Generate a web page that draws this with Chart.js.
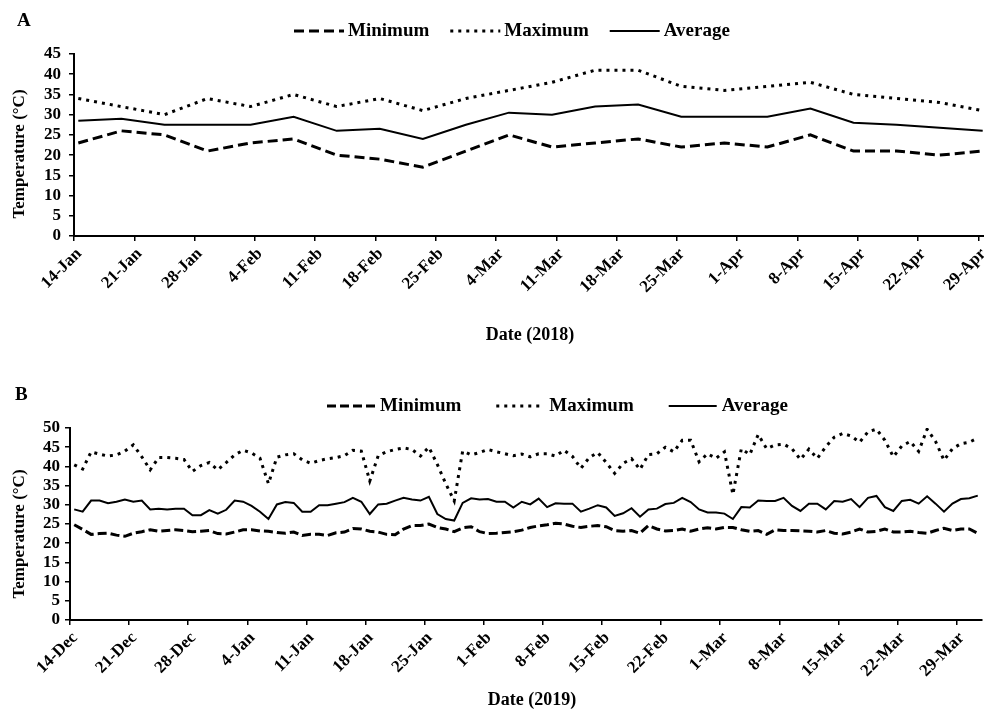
<!DOCTYPE html>
<html>
<head>
<meta charset="utf-8">
<title>Air temperature 2018 and 2019</title>
<script src="https://cdn.jsdelivr.net/npm/chart.js@4.4.1/dist/chart.umd.min.js"></script>
<style>
  html, body { margin: 0; padding: 0; background: #fff; overflow: hidden; width: 984px; height: 710px; }
  .panel { position: absolute; left: 0; }
  #panelA { top: 0; }
  #panelB { top: 355px; }
</style>
</head>
<body>
<div class="panel" id="panelA"><canvas id="chartA" width="990" height="355"></canvas></div>
<div class="panel" id="panelB"><canvas id="chartB" width="990" height="355"></canvas></div>
<script>
const FONT = '"Liberation Serif", "Times New Roman", serif';
const INK = '#000';

// ---- Panel A: 2018, readings every five days ----
const axisStartA = '2018-01-14';
const readingDatesA = ['2018-01-14', '2018-01-19', '2018-01-24', '2018-01-29', '2018-02-03', '2018-02-08',
  '2018-02-13', '2018-02-18', '2018-02-23', '2018-02-28', '2018-03-05', '2018-03-10', '2018-03-15',
  '2018-03-20', '2018-03-25', '2018-03-30', '2018-04-04', '2018-04-09', '2018-04-14', '2018-04-19',
  '2018-04-24', '2018-04-29'];
const minA = [23, 26, 25, 21, 23, 24, 20, 19, 17, 21, 25, 22, 23, 24, 22, 23, 22, 25, 21, 21, 20, 21];
const maxA = [34, 32, 30, 34, 32, 35, 32, 34, 31, 34, 36, 38, 41, 41, 37, 36, 37, 38, 35, 34, 33, 31];
const avgA = [28.5, 29, 27.5, 27.5, 27.5, 29.5, 26, 26.5, 24, 27.5, 30.5, 30, 32, 32.5, 29.5, 29.5, 29.5,
  31.5, 28, 27.5, 26.75, 26];
const tickLabelsA = ['14-Jan', '21-Jan', '28-Jan', '4-Feb', '11-Feb', '18-Feb', '25-Feb', '4-Mar', '11-Mar',
  '18-Mar', '25-Mar', '1-Apr', '8-Apr', '15-Apr', '22-Apr', '29-Apr'];

// ---- Panel B: 2019, daily readings from 14 Dec ----
const axisStartB = '2018-12-14';
const minB = [24.8, 23.6, 22.3, 22.5, 22.6, 22.1, 21.8, 22.6, 23.0, 23.5,
  23.1, 23.3, 23.5, 23.3, 23.0, 23.1, 23.3, 22.5, 22.4, 22.9,
  23.5, 23.5, 23.2, 23.1, 22.8, 22.6, 22.9, 22.0, 22.3, 22.3,
  22.0, 22.7, 22.9, 23.8, 23.7, 23.1, 22.9, 22.3, 22.2, 23.7,
  24.6, 24.6, 25.0, 24.1, 23.7, 23.0, 24.0, 24.3, 23.0, 22.5,
  22.6, 22.8, 23.0, 23.4, 24.1, 24.5, 24.8, 25.2, 25.0, 24.4,
  24.1, 24.4, 24.6, 24.3, 23.3, 23.1, 23.3, 22.6, 24.6, 23.7,
  23.2, 23.3, 23.7, 23.1, 23.7, 24.0, 23.7, 24.1, 24.1, 23.5,
  23.1, 23.3, 22.3, 23.5, 23.3, 23.3, 23.2, 23.1, 22.9, 23.3,
  22.6, 22.4, 22.9, 23.7, 22.9, 23.1, 23.7, 22.9, 22.9, 23.1,
  22.8, 22.6, 23.3, 23.9, 23.3, 23.7, 23.7, 22.6];
const maxB = [40.4, 39.3, 43.8, 43.2, 42.7, 43.0, 44.0, 45.6, 42.5, 39.1,
  42.3, 42.3, 42.1, 41.8, 38.7, 40.2, 41.0, 39.1, 41.0, 43.0,
  44.2, 43.5, 42.1, 35.5, 42.4, 43.0, 43.3, 41.7, 40.8, 41.5,
  42.0, 42.3, 42.8, 44.2, 44.0, 36.2, 42.8, 43.8, 44.4, 44.8,
  44.4, 42.7, 45.0, 40.5, 35.5, 31.0, 44.0, 43.0, 43.6, 44.4,
  43.8, 43.3, 42.8, 43.2, 42.5, 43.3, 43.3, 42.7, 44.2, 42.6,
  39.5, 42.3, 43.6, 41.0, 38.2, 40.8, 42.0, 39.2, 43.1, 43.3,
  45.0, 43.8, 46.8, 46.8, 41.2, 43.3, 42.1, 43.8, 32.7, 44.6,
  43.1, 48.3, 44.6, 45.6, 45.8, 44.6, 41.8, 44.5, 42.1, 45.1,
  47.6, 48.6, 47.9, 46.3, 49.0, 49.7, 46.8, 42.5, 45.3, 46.5,
  43.9, 49.7, 46.5, 41.6, 44.6, 45.9, 46.3, 47.4];
const avgB = [28.8, 28.2, 31.1, 31.1, 30.4, 30.8, 31.4, 30.8, 31.1, 28.8,
  29.0, 28.8, 29.0, 29.0, 27.3, 27.3, 28.6, 27.7, 28.7, 31.1,
  30.8, 29.7, 28.2, 26.3, 30.1, 30.7, 30.5, 28.2, 28.2, 29.9,
  29.9, 30.3, 30.7, 31.8, 30.8, 27.6, 30.1, 30.3, 31.1, 31.8,
  31.4, 31.1, 32.1, 27.6, 26.3, 25.9, 30.5, 31.7, 31.4, 31.5,
  30.8, 30.8, 29.3, 30.8, 30.1, 31.6, 29.4, 30.4, 30.3, 30.3,
  28.2, 29.0, 29.9, 29.3, 27.1, 27.8, 29.1, 26.9, 28.8, 29.0,
  30.2, 30.5, 31.8, 30.7, 28.8, 28.0, 28.0, 27.7, 26.3, 29.4,
  29.3, 31.1, 31.0, 31.0, 31.8, 29.7, 28.4, 30.3, 30.3, 28.8,
  31.0, 30.8, 31.5, 29.4, 31.8, 32.3, 29.4, 28.4, 31.0, 31.3,
  30.3, 32.2, 30.3, 28.2, 30.3, 31.5, 31.7, 32.4];
const tickLabelsB = ['14-Dec', '21-Dec', '28-Dec', '4-Jan', '11-Jan', '18-Jan', '25-Jan', '1-Feb', '8-Feb',
  '15-Feb', '22-Feb', '1-Mar', '8-Mar', '15-Mar', '22-Mar', '29-Mar'];

const seriesLabels = ['Minimum', 'Maximum', 'Average'];

const DAY_MS = 86400000;
function dayOffset(iso, startIso) {
  return Math.round((Date.parse(iso) - Date.parse(startIso)) / DAY_MS);
}

// Legend row, panel letter and axis titles, drawn on top of the chart
function panelDecor(d) {
  return {
    id: 'panelDecor',
    afterDraw(chart) {
      const ctx = chart.ctx;
      ctx.save();
      ctx.fillStyle = INK;
      ctx.strokeStyle = INK;
      ctx.textBaseline = 'middle';

      ctx.font = 'bold ' + d.letterSize + 'px ' + FONT;
      ctx.textAlign = 'left';
      ctx.fillText(d.letter, d.letterX, d.letterY);

      ctx.font = 'bold ' + d.legendSize + 'px ' + FONT;
      let x = d.legendX;
      chart.data.datasets.forEach(ds => {
        ctx.save();
        ctx.lineWidth = ds.borderWidth;
        ctx.lineCap = 'butt';
        ctx.setLineDash(ds.borderDash || []);
        ctx.beginPath();
        ctx.moveTo(x, d.legendY);
        ctx.lineTo(x + d.sample, d.legendY);
        ctx.stroke();
        ctx.restore();
        x += d.sample + d.textGap;
        ctx.fillText(ds.label, x, d.legendY);
        x += ctx.measureText(ds.label).width + d.itemGap;
      });

      ctx.font = 'bold ' + d.xTitleSize + 'px ' + FONT;
      ctx.textAlign = 'center';
      ctx.fillText(d.xTitle, d.xTitleX, d.xTitleY);

      ctx.font = 'bold ' + d.yTitleSize + 'px ' + FONT;
      ctx.translate(d.yTitleX, d.yTitleY);
      ctx.rotate(-Math.PI / 2);
      ctx.fillText(d.yTitle, 0, 0);
      ctx.restore();
    }
  };
}

function buildChart(canvasId, p) {
  // each reading sits in the middle of its day on the date axis
  const pts = vals => vals.map((v, i) => ({ x: p.days[i] + 0.5, y: v }));
  const common = { borderColor: INK, pointRadius: 0, fill: false, tension: 0, borderCapStyle: 'butt', borderJoinStyle: 'miter' };
  return new Chart(document.getElementById(canvasId), {
    type: 'line',
    data: {
      datasets: [
        Object.assign({ label: seriesLabels[0], data: pts(p.min), borderWidth: 3, borderDash: p.minDash }, common),
        Object.assign({ label: seriesLabels[1], data: pts(p.max), borderWidth: 3, borderDash: p.maxDash }, common),
        Object.assign({ label: seriesLabels[2], data: pts(p.avg), borderWidth: 2, borderDash: [] }, common)
      ]
    },
    options: {
      responsive: false,
      animation: false,
      events: [],
      layout: { padding: { top: p.padTop, right: p.padRight, left: 0, bottom: 0 } },
      plugins: { legend: { display: false }, tooltip: { enabled: false } },
      scales: {
        x: {
          type: 'linear',
          bounds: 'data',
          min: 0,
          max: p.span,
          afterBuildTicks: s => { s.ticks = p.tickLabels.map((_, i) => ({ value: i * 7 })); },
          afterFit: s => { s.height = p.xAxisHeight; s.paddingLeft = 0; s.paddingRight = 0; },
          grid: { drawOnChartArea: false, drawTicks: true, tickLength: 5, color: INK, lineWidth: 1.5 },
          border: { display: true, color: INK, width: 2 },
          ticks: {
            autoSkip: false, minRotation: 45, maxRotation: 45, padding: 3, labelOffset: 5, color: INK,
            font: { family: FONT, size: p.xTickSize, weight: 'bold' },
            callback: (value, index) => p.tickLabels[index]
          }
        },
        y: {
          min: 0,
          max: p.yMax,
          afterFit: s => { s.width = p.yAxisWidth; s.paddingTop = 0; s.paddingBottom = 0; },
          grid: { drawOnChartArea: false, drawTicks: true, tickLength: 5, color: INK, lineWidth: 1.5 },
          border: { display: true, color: INK, width: 2 },
          ticks: {
            stepSize: 5, autoSkip: false, padding: p.yTickPad, color: INK,
            font: { family: FONT, size: p.yTickSize, weight: 'bold' }
          }
        }
      }
    },
    plugins: [panelDecor(p.decor)]
  });
}

const daysA = readingDatesA.map(d => dayOffset(d, axisStartA));
buildChart('chartA', {
  days: daysA, min: minA, max: maxA, avg: avgA, tickLabels: tickLabelsA,
  span: daysA[daysA.length - 1] + 1, yMax: 45,
  minDash: [10, 5], maxDash: [3, 5],
  padTop: 54, padRight: 3, xAxisHeight: 119, yAxisWidth: 74, yTickPad: 8,
  xTickSize: 17, yTickSize: 17,
  decor: {
    letter: 'A', letterX: 17, letterY: 21, letterSize: 19,
    legendX: 294, legendY: 31, legendSize: 19, sample: 50, textGap: 4, itemGap: 21,
    xTitle: 'Date (2018)', xTitleX: 530, xTitleY: 335, xTitleSize: 18,
    yTitle: 'Temperature (°C)', yTitleX: 20, yTitleY: 154, yTitleSize: 17
  }
});

const daysB = minB.map((_, i) => i);
buildChart('chartB', {
  days: daysB, min: minB, max: maxB, avg: avgB, tickLabels: tickLabelsB,
  span: minB.length, yMax: 50,
  minDash: [9, 4], maxDash: [3, 5],
  padTop: 73, padRight: 8, xAxisHeight: 90, yAxisWidth: 70, yTickPad: 5,
  xTickSize: 17, yTickSize: 17,
  decor: {
    letter: 'B', letterX: 15, letterY: 40, letterSize: 19,
    legendX: 327, legendY: 51, legendSize: 19, sample: 48, textGap: 5, itemGap: 35,
    xTitle: 'Date (2019)', xTitleX: 532, xTitleY: 345, xTitleSize: 18,
    yTitle: 'Temperature (°C)', yTitleX: 20, yTitleY: 179, yTitleSize: 17
  }
});
</script>
</body>
</html>
